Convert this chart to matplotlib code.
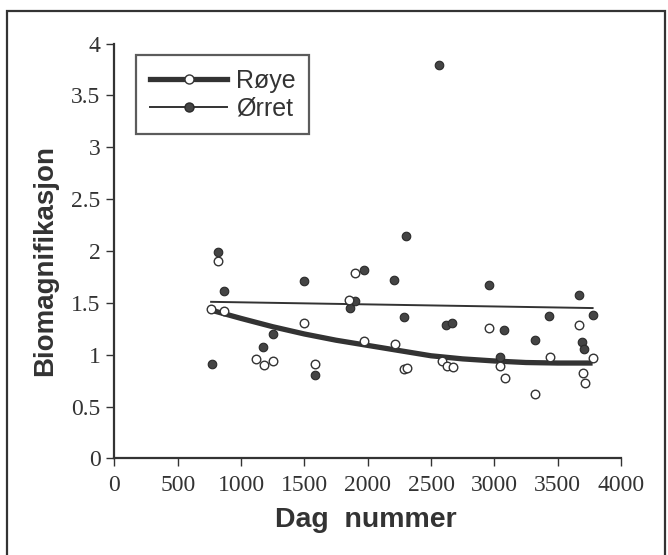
import numpy as np
import matplotlib
matplotlib.use("Agg")
import matplotlib.pyplot as plt
from matplotlib.lines import Line2D
from matplotlib.patches import Rectangle

# Røye (open circles)
roye_dag = [763, 821, 863, 1118, 1179, 1255, 1496, 1584, 1854, 1898, 1967, 2216,
            2288, 2314, 2585, 2629, 2672, 2960, 3045, 3082, 3320, 3439, 3670,
            3697, 3717, 3776]
roye_bio = [1.44, 1.90, 1.42, 0.96, 0.90, 0.94, 1.31, 0.91, 1.53, 1.79, 1.13, 1.10,
            0.86, 0.87, 0.94, 0.89, 0.88, 1.26, 0.89, 0.78, 0.62, 0.98, 1.29,
            0.82, 0.73, 0.97]

# Ørret (filled circles)
orret_dag = [770, 821, 863, 1175, 1255, 1496, 1584, 1859, 1898, 1967, 2211, 2283,
             2303, 2563, 2619, 2664, 2960, 3045, 3079, 3320, 3434, 3670, 3691,
             3707, 3776]
orret_bio = [0.91, 1.99, 1.61, 1.07, 1.20, 1.71, 0.80, 1.45, 1.52, 1.82, 1.72, 1.36,
             2.14, 3.79, 1.29, 1.31, 1.67, 0.98, 1.24, 1.14, 1.37, 1.58, 1.12,
             1.06, 1.38]

# trend lines
roye_fit_dag = [763, 1000, 1250, 1500, 1750, 2000, 2250, 2500, 2750, 3000, 3250, 3500, 3776]
roye_fit_bio = [1.43, 1.35, 1.27, 1.20, 1.14, 1.09, 1.04, 0.99, 0.96, 0.94, 0.925, 0.92, 0.92]
orret_fit_dag = [763, 3776]
orret_fit_bio = [1.51, 1.45]

x_ticks = [0, 500, 1000, 1500, 2000, 2500, 3000, 3500, 4000]
y_ticks = [0, 0.5, 1, 1.5, 2, 2.5, 3, 3.5, 4]
y_ticklabels = ['0', '0.5', '1', '1.5', '2', '2.5', '3', '3.5', '4']

ink = '#333333'
sans = ['Liberation Sans', 'DejaVu Sans']
serif = ['Liberation Serif', 'DejaVu Serif']

fig = plt.figure(figsize=(6.68, 5.55), dpi=100)
ax = fig.add_axes([0.1714, 0.1739, 0.7582, 0.7477])

ax.plot(roye_fit_dag, roye_fit_bio, color=ink, lw=3.8, solid_capstyle='butt', zorder=2)
ax.plot(orret_fit_dag, orret_fit_bio, color=ink, lw=1.4, zorder=2)
ax.scatter(orret_dag, orret_bio, s=38, facecolor='#444444', edgecolor='#2a2a2a',
           linewidth=0.8, zorder=3)
ax.scatter(roye_dag, roye_bio, s=38, facecolor='white', edgecolor=ink,
           linewidth=1.0, zorder=4)

ax.set_xlim(0, 4000)
ax.set_ylim(0, 4)
ax.set_xticks(x_ticks)
ax.set_yticks(y_ticks)
ax.set_yticklabels(y_ticklabels)
for side in ['top', 'right']:
    ax.spines[side].set_visible(False)
for side in ['left', 'bottom']:
    ax.spines[side].set_linewidth(1.6)
    ax.spines[side].set_color(ink)
ax.tick_params(direction='out', length=6, width=1, colors=ink, labelsize=17)
ax.tick_params(axis='x', pad=6)
ax.tick_params(axis='y', pad=4)
for lbl in ax.get_xticklabels() + ax.get_yticklabels():
    lbl.set_fontfamily(serif)
    lbl.set_color(ink)

ax.set_xlabel('Dag  nummer', fontsize=20.5, fontweight='bold', family=sans, color=ink)
ax.set_ylabel('Biomagnifikasjon', fontsize=20, fontweight='bold', family=sans, color=ink)
ax.xaxis.set_label_coords((366 - 114.5) / 506.5, -0.118)
ax.yaxis.set_label_coords((58 - 114.5) / 506.5, 0.478)

handles = [
    Line2D([], [], color=ink, lw=3.8, marker='o', markersize=6.5,
           markerfacecolor='white', markeredgecolor=ink),
    Line2D([], [], color=ink, lw=1.4, marker='o', markersize=6.5,
           markerfacecolor='#444444', markeredgecolor='#2a2a2a'),
]
leg = ax.legend(handles, ['Røye', 'Ørret'], loc='upper left',
                bbox_to_anchor=(136 / 668, 1 - 55 / 555), bbox_transform=fig.transFigure,
                prop={'family': sans, 'size': 18}, frameon=True, fancybox=False,
                handlelength=3.1, handletextpad=0.35, labelspacing=0.15,
                borderpad=0.55, borderaxespad=0)
leg.get_frame().set_edgecolor(ink)
leg.get_frame().set_linewidth(1.6)
for t in leg.get_texts():
    t.set_color(ink)

# border around the whole figure
fig.patches.append(Rectangle((7 / 668, -0.02), 658 / 668, 1 - 11 / 555 + 0.02,
                             transform=fig.transFigure, fill=False,
                             edgecolor=ink, linewidth=1.6))

fig.savefig('out.png', dpi=100)
